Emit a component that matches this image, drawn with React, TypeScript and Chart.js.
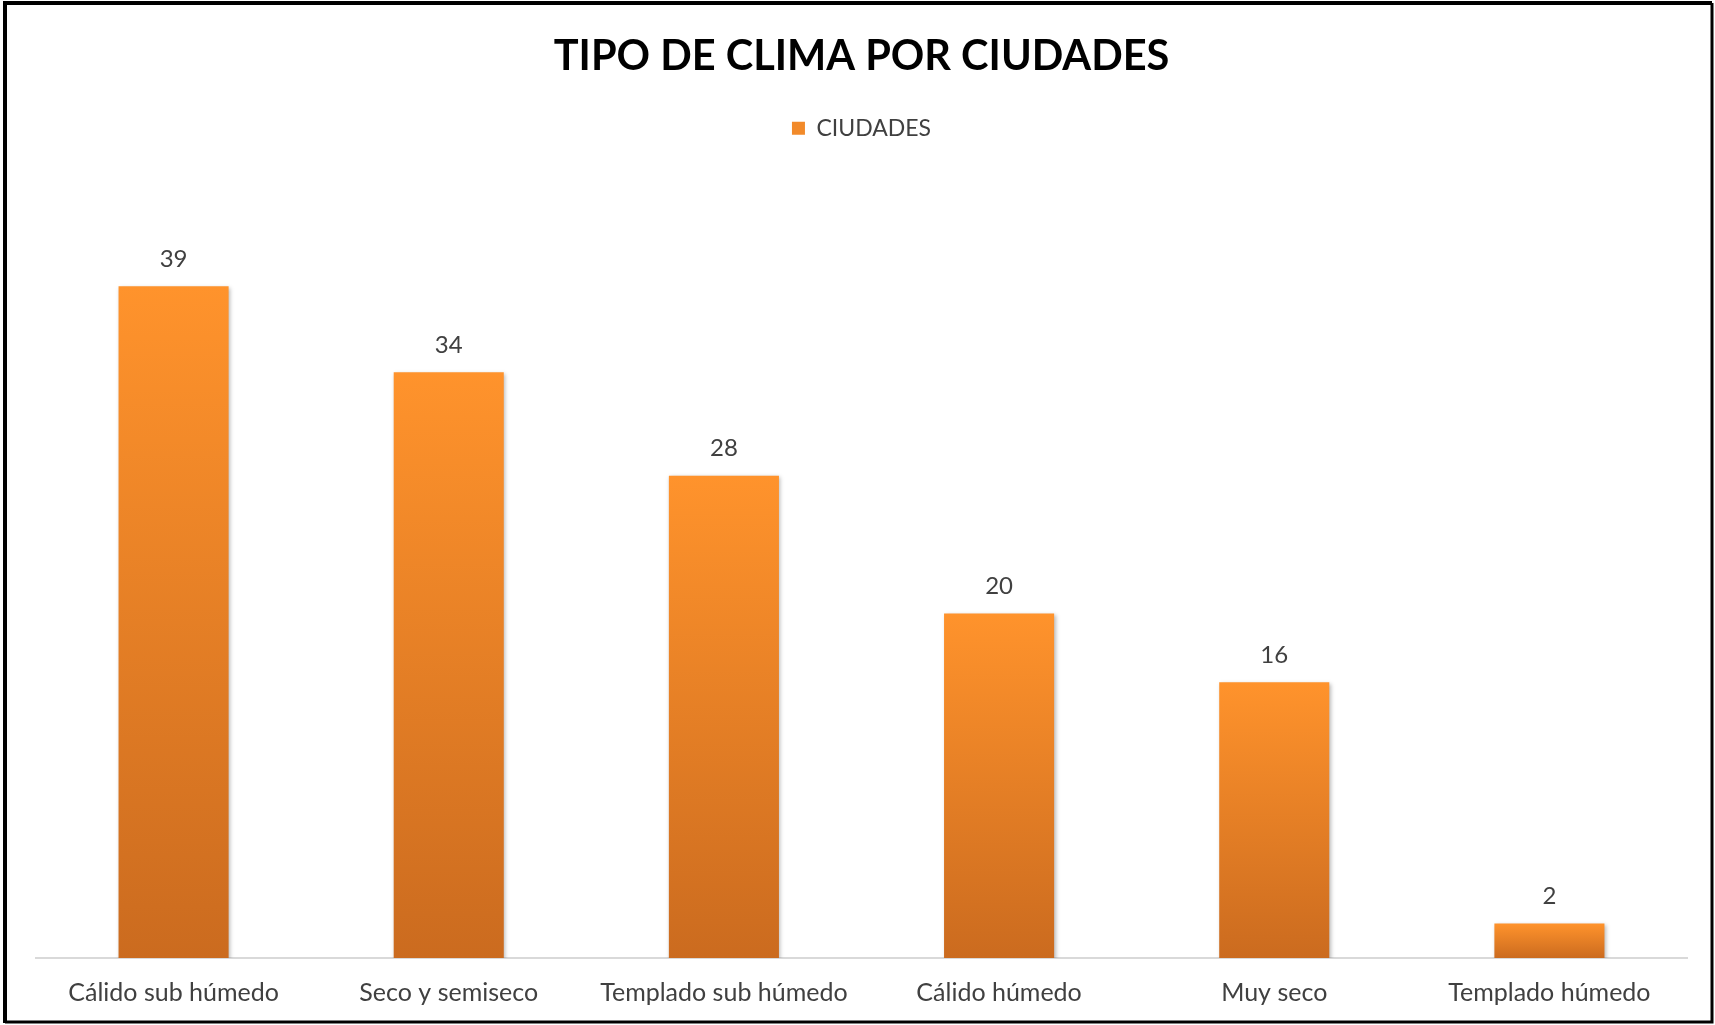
import React, { useEffect, useRef } from "react";
import { Chart, registerables } from "chart.js";

Chart.register(...registerables);

const chartTitle = "TIPO DE CLIMA POR CIUDADES";
const seriesName = "CIUDADES";
const categories = [
  "Cálido sub húmedo",
  "Seco y semiseco",
  "Templado sub húmedo",
  "Cálido húmedo",
  "Muy seco",
  "Templado húmedo",
];
const values = [39, 34, 28, 20, 16, 2];
const yMax = 45;

const FONT = "Lato, 'Open Sans', sans-serif";
const TOP_COLOR = "#FF932C";
const BOTTOM_COLOR = "#CB6B1F";

const framePlugin = {
  id: "frame",
  beforeDraw(chart: any) {
    const c = chart.ctx;
    c.save();
    c.fillStyle = "#ffffff";
    c.fillRect(0, 0, chart.width, chart.height);
    c.restore();
  },
  afterDraw(chart: any) {
    const c = chart.ctx;
    c.save();
    c.strokeStyle = "#000000";
    c.lineWidth = 4;
    c.beginPath();
    c.moveTo(5, 1023);
    c.lineTo(5, 3);
    c.lineTo(1712, 3);
    c.stroke();
    c.lineWidth = 3;
    c.beginPath();
    c.moveTo(1712, 3);
    c.lineTo(1712, 1022);
    c.lineTo(5, 1022);
    c.stroke();
    c.restore();
  },
};

const shadowPlugin = {
  id: "barShadow",
  beforeDatasetsDraw(chart: any) {
    const c = chart.ctx;
    c.save();
    c.shadowColor = "rgba(0,0,0,0.28)";
    c.shadowBlur = 4;
    c.shadowOffsetX = 1.5;
    c.shadowOffsetY = 1.5;
  },
  afterDatasetsDraw(chart: any) {
    chart.ctx.restore();
  },
};

const labelPlugin = {
  id: "valueLabels",
  afterDatasetsDraw(chart: any) {
    const c = chart.ctx;
    const meta = chart.getDatasetMeta(0);
    c.save();
    c.fillStyle = "#404040";
    c.font = `24px ${FONT}`;
    c.textAlign = "center";
    c.textBaseline = "middle";
    meta.data.forEach((bar: any, i: number) => {
      c.fillText(String(values[i]), bar.x, bar.y - 27);
    });
    c.restore();
  },
};

export default function App() {
  const canvasRef = useRef<HTMLCanvasElement | null>(null);

  useEffect(() => {
    document.body.style.margin = "0";
    const canvas = canvasRef.current;
    if (!canvas) return;
    const chart = new Chart(canvas, {
      type: "bar",
      data: {
        labels: categories,
        datasets: [
          {
            label: seriesName,
            data: values,
            backgroundColor: (ctx: any) => {
              const ch = ctx.chart;
              const area = ch.chartArea;
              if (!area || ctx.type !== "data") return "#F28A2A";
              const ys = ch.scales.y;
              const top = ys.getPixelForValue(ctx.raw as number);
              const base = ys.getPixelForValue(0);
              const g = ch.ctx.createLinearGradient(0, top, 0, base);
              g.addColorStop(0, TOP_COLOR);
              g.addColorStop(1, BOTTOM_COLOR);
              return g;
            },
            borderWidth: 0,
            barPercentage: 0.4,
            categoryPercentage: 1,
          },
        ],
      },
      options: {
        responsive: false,
        animation: false,
        layout: { padding: { top: 10, left: 36, right: 28, bottom: 20 } },
        plugins: {
          title: {
            display: true,
            text: chartTitle,
            color: "#000000",
            font: { family: FONT, size: 41.5, weight: "bold" },
            padding: { top: 22, bottom: 25 },
          },
          subtitle: {
            display: true,
            text: "",
            weight: 500,
            font: { size: 10 },
            padding: { top: 10, bottom: 11 },
          } as any,
          legend: {
            display: true,
            position: "top",
            labels: {
              color: "#404040",
              font: { family: FONT, size: 23 },
              boxWidth: 13,
              boxHeight: 13,
              padding: 10,
              generateLabels: () => [
                {
                  text: seriesName,
                  fillStyle: "#F28A2A",
                  strokeStyle: "#F28A2A",
                  lineWidth: 0,
                  hidden: false,
                  datasetIndex: 0,
                  fontColor: "#404040",
                } as any,
              ],
            },
          },
          tooltip: { enabled: false },
        },
        scales: {
          x: {
            grid: { display: false, drawTicks: false },
            border: { display: true, color: "#D9D9D9", width: 2 },
            ticks: {
              color: "#404040",
              font: { family: FONT, size: 25 },
              padding: 20,
              maxRotation: 0,
              autoSkip: false,
            },
            afterFit: (s: any) => {
              s.height = 47;
            },
          },
          y: {
            display: false,
            min: 0,
            max: yMax,
          },
        },
      },
      plugins: [framePlugin, shadowPlugin, labelPlugin],
    });
    return () => chart.destroy();
  }, []);

  return (
    <div style={{ position: "absolute", left: 0, top: 0, width: 1715, height: 1025 }}>
      <canvas ref={canvasRef} width={1715} height={1025} style={{ display: "block" }} />
    </div>
  );
}
